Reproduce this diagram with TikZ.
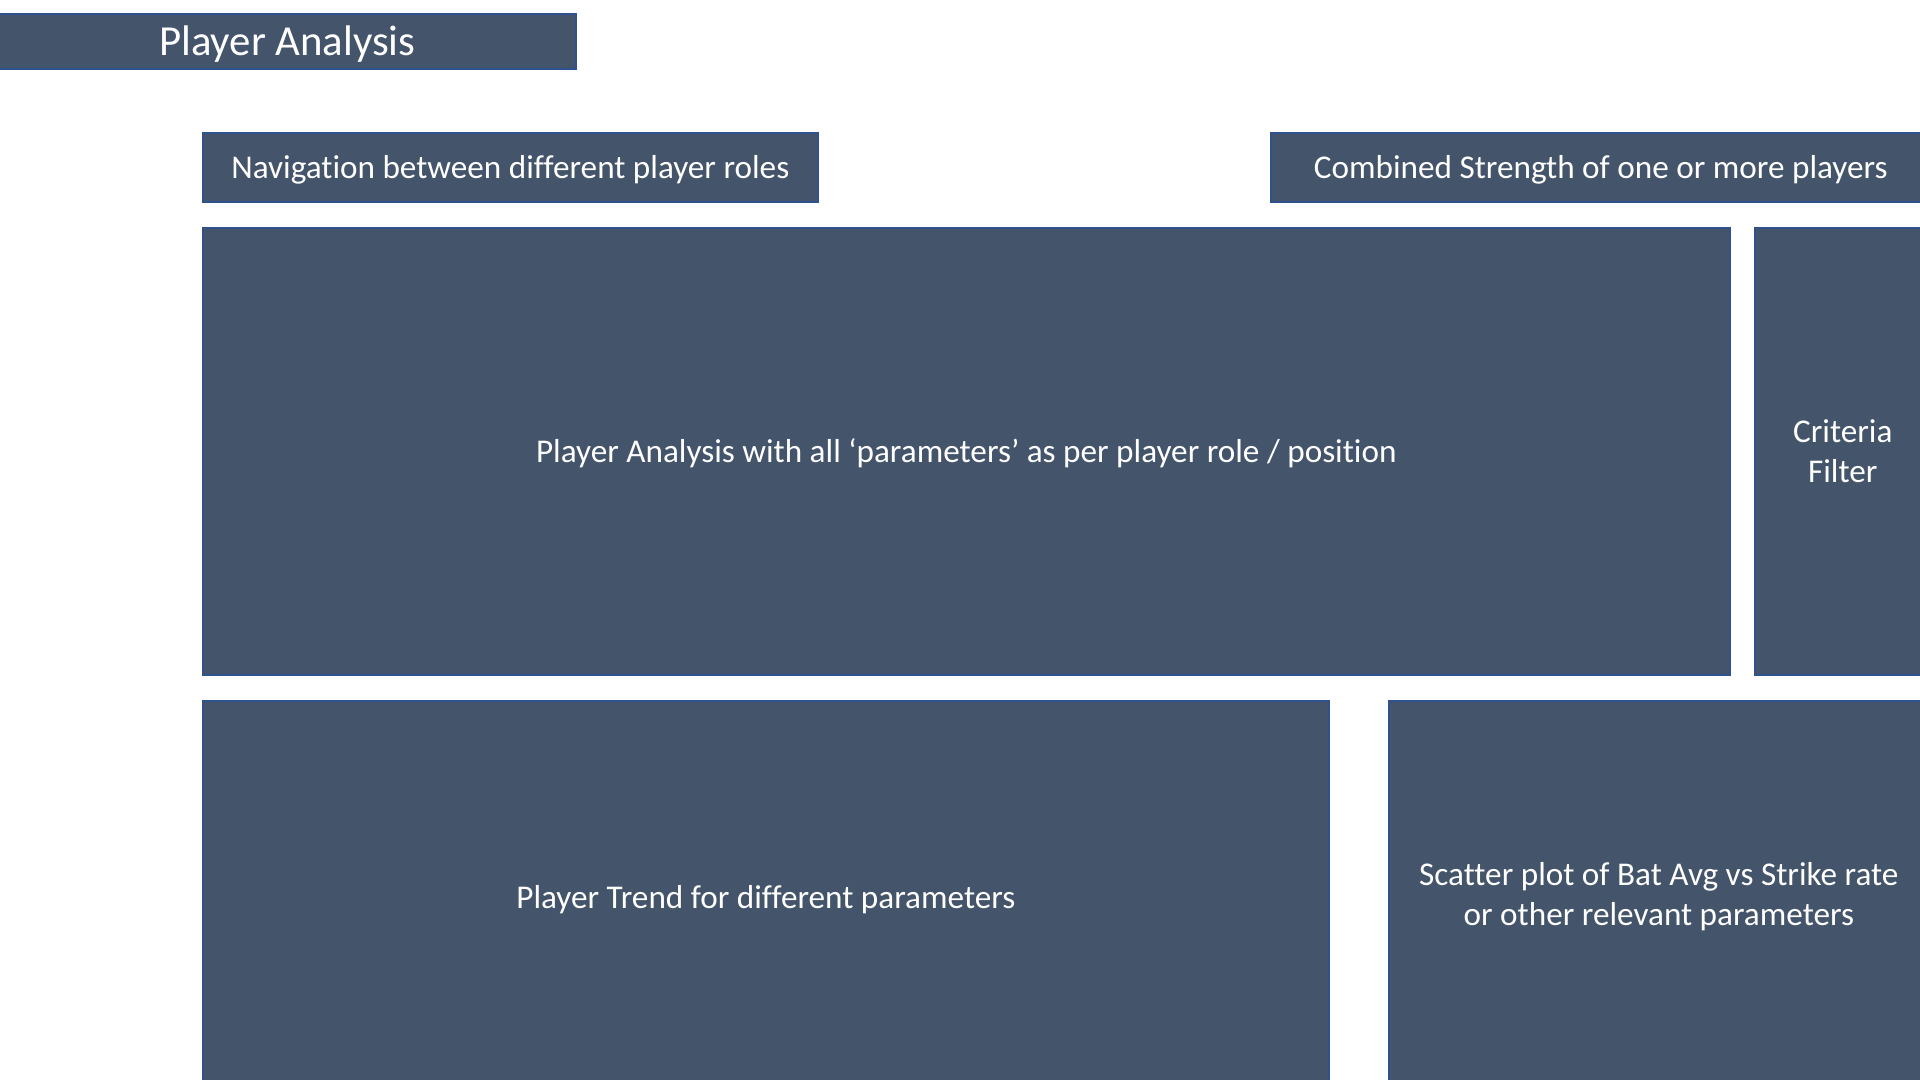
\documentclass[tikz,border=0pt]{standalone}
\usepackage{fontspec}
\setmainfont{Carlito}[Ligatures=NoCommon]
\definecolor{slate}{HTML}{44546A}
\definecolor{rim}{HTML}{2F528F}

\begin{document}
\begin{tikzpicture}[x=0.5pt,y=-0.5pt,
    panel/.style={draw=rim,line width=0.8pt,fill=slate,text=white,inner sep=0pt,
      anchor=north west,align=center,font=\fontsize{16.6}{20.2}\selectfont,
      execute at begin node={\rule{0pt}{14.2pt}}},
    heading/.style={panel,font=\fontsize{21.4}{25}\selectfont,
      execute at begin node={\rule{0pt}{17.6pt}}}]
\useasboundingbox (0,0) rectangle (1920,1080);
\clip (0,0) rectangle (1920,1080);
    \node[heading,minimum width=288.5pt,minimum height=27.5pt] (title) at (-2,13) {Player Analysis};
    \node[panel,minimum width=307.5pt,minimum height=34.5pt] (nav) at (202,132) {Navigation between different player roles};
    \node[panel,minimum width=330pt,minimum height=34.5pt] (combined) at (1270,132) {Combined Strength of one or more players};
    \node[panel,minimum width=763.5pt,minimum height=223.5pt] (main) at (202,227) {Player Analysis with all ‘parameters’ as per player role / position};
    \node[panel,minimum width=88pt,minimum height=223.5pt] (criteria) at (1754,227) {Criteria\\Filter};
    \node[panel,minimum width=563pt,minimum height=196pt,execute at begin node={\rule{0pt}{14.6pt}}] (trend) at (202,700) {Player Trend for different parameters};
    \node[panel,minimum width=270pt,minimum height=196pt,execute at begin node={\rule{0pt}{16.8pt}}] (scatter) at (1388,700) {Scatter plot of Bat Avg vs Strike rate\\or other relevant parameters};
\end{tikzpicture}
\end{document}
